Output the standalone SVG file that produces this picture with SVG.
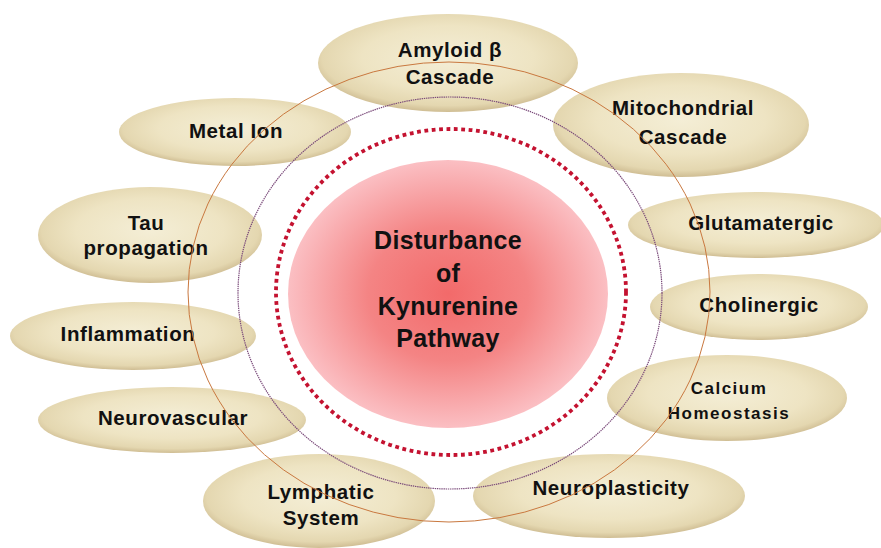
<svg xmlns="http://www.w3.org/2000/svg" width="881" height="548" viewBox="0 0 881 548">
<style>
.node ellipse{fill:url(#tan)}
.lbl{font-family:"Liberation Sans",Arial,sans-serif;font-weight:bold;font-size:20.5px;fill:#111;text-anchor:middle;letter-spacing:0.6px}
.sm{font-size:17px;letter-spacing:1.5px}
.ctr{font-size:25px;letter-spacing:0.3px}
.ring1{fill:none;stroke:#c9783f;stroke-width:1}
.ring2{fill:none;stroke:#7a4a7a;stroke-width:1.2;stroke-dasharray:1.4 0.8}
.ring3{fill:none;stroke:#c41230;stroke-width:3.8;stroke-dasharray:3.8 3.6}
</style>
<defs>
<radialGradient id="tan" cx="50%" cy="45%" r="55%">
<stop offset="0" stop-color="#f4eed6"/>
<stop offset="0.6" stop-color="#eee4c3"/>
<stop offset="0.88" stop-color="#e4d7b0"/>
<stop offset="1" stop-color="#cfbd93"/>
</radialGradient>
<radialGradient id="pink" cx="50%" cy="50%" r="50%">
<stop offset="0" stop-color="#f26a6a"/>
<stop offset="0.5" stop-color="#f48484"/>
<stop offset="1" stop-color="#fbbfc3"/>
</radialGradient>
</defs>
<rect width="881" height="548" fill="#fff"/>
<g id="center">
<ellipse cx="448" cy="294" rx="160" ry="134" fill="url(#pink)"/>
</g>
<g id="n-amyloid" class="node"><ellipse cx="448" cy="63" rx="130" ry="49"/><text class="lbl" x="450" y="57">Amyloid β</text><text class="lbl" x="450" y="84">Cascade</text></g>
<g id="n-metal" class="node"><ellipse cx="235" cy="132" rx="116" ry="34"/><text class="lbl" x="236" y="138">Metal Ion</text></g>
<g id="n-mito" class="node"><ellipse cx="681" cy="125" rx="128" ry="52"/><text class="lbl" x="683" y="115">Mitochondrial</text><text class="lbl" x="683" y="144">Cascade</text></g>
<g id="n-tau" class="node"><ellipse cx="150" cy="235" rx="112" ry="48"/><text class="lbl" x="146" y="230">Tau</text><text class="lbl" x="146" y="255">propagation</text></g>
<g id="n-glut" class="node"><ellipse cx="756" cy="225" rx="128" ry="33"/><text class="lbl" x="761" y="230">Glutamatergic</text></g>
<g id="n-chol" class="node"><ellipse cx="759" cy="307" rx="109" ry="33"/><text class="lbl" x="759" y="312">Cholinergic</text></g>
<g id="n-infl" class="node"><ellipse cx="133" cy="336" rx="123" ry="34"/><text class="lbl" x="128" y="341">Inflammation</text></g>
<g id="n-calc" class="node"><ellipse cx="727" cy="398" rx="120" ry="43"/><text class="lbl sm" x="729" y="394">Calcium</text><text class="lbl sm" x="729" y="419">Homeostasis</text></g>
<g id="n-neurovasc" class="node"><ellipse cx="172" cy="420" rx="134" ry="33"/><text class="lbl" x="173" y="425">Neurovascular</text></g>
<g id="n-lymph" class="node"><ellipse cx="319" cy="501" rx="116" ry="47"/><text class="lbl" x="321" y="499">Lymphatic</text><text class="lbl" x="321" y="525">System</text></g>
<g id="n-neuroplast" class="node"><ellipse cx="609" cy="496" rx="136" ry="42"/><text class="lbl" x="611" y="495">Neuroplasticity</text></g>
<g id="connectors">
<ellipse class="ring1" cx="449" cy="292" rx="261" ry="230"/>
<ellipse class="ring2" cx="450" cy="293" rx="212" ry="196"/>
<ellipse class="ring3" cx="451" cy="292" rx="175" ry="163"/>
</g>
<g id="center-label">
<text class="lbl ctr" x="448" y="249">Disturbance</text>
<text class="lbl ctr" x="448" y="282">of</text>
<text class="lbl ctr" x="448" y="315">Kynurenine</text>
<text class="lbl ctr" x="448" y="347">Pathway</text>
</g>
</svg>
